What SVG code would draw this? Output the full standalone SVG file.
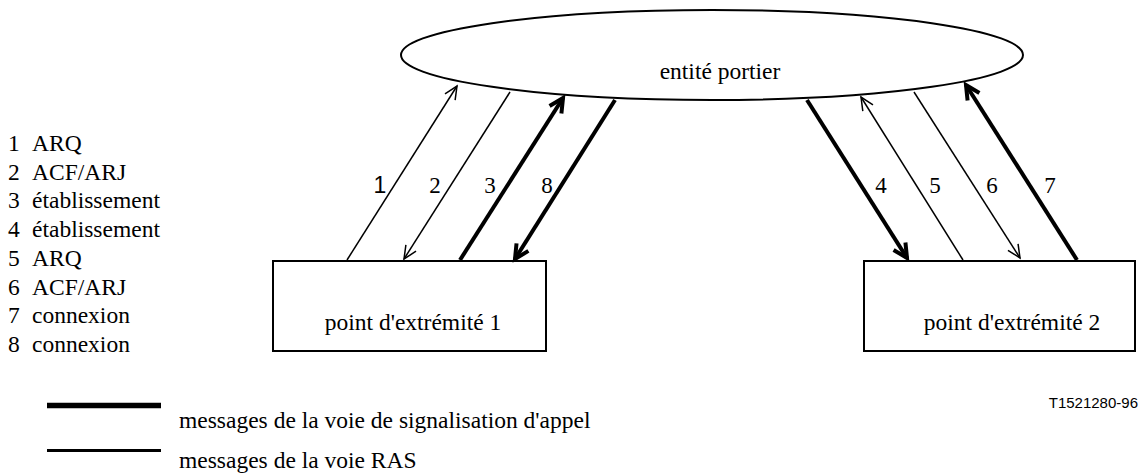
<svg xmlns="http://www.w3.org/2000/svg" width="1145" height="475" viewBox="0 0 1145 475">
<style>
text{font-family:"Liberation Serif","Times New Roman","DejaVu Serif",serif;fill:#000}
.t{font-size:23.5px}
.n{font-size:23px}
.s{font-family:"Liberation Sans",Arial,sans-serif}
.thin{stroke:#000;stroke-width:1.5;fill:none}
.thick{stroke:#000;stroke-width:4;fill:none}
.shape{fill:#fff;stroke:#000;stroke-width:2}
</style>
<defs>
<marker id="ah" markerUnits="userSpaceOnUse" markerWidth="20" markerHeight="20" refX="14" refY="7" orient="auto">
<path d="M1,1 L14,7 L1,13" fill="none" stroke="#000" stroke-width="1.5"/>
</marker>
<marker id="ahb" markerUnits="userSpaceOnUse" markerWidth="24" markerHeight="24" refX="16" refY="9" orient="auto">
<path d="M2,2 L16,9 L2,16" fill="none" stroke="#000" stroke-width="4"/>
</marker>
</defs>
<g id="legend">
<text class="t" x="8" y="151">1</text><text class="t" x="32" y="151">ARQ</text>
<text class="t" x="8" y="179.7">2</text><text class="t" x="32" y="179.7">ACF/ARJ</text>
<text class="t" x="8" y="208.4">3</text><text class="t" x="32" y="208.4">établissement</text>
<text class="t" x="8" y="237.1">4</text><text class="t" x="32" y="237.1">établissement</text>
<text class="t" x="8" y="265.8">5</text><text class="t" x="32" y="265.8">ARQ</text>
<text class="t" x="8" y="294.5">6</text><text class="t" x="32" y="294.5">ACF/ARJ</text>
<text class="t" x="8" y="323.2">7</text><text class="t" x="32" y="323.2">connexion</text>
<text class="t" x="8" y="351.9">8</text><text class="t" x="32" y="351.9">connexion</text>
</g>
<g id="gatekeeper">
<ellipse class="shape" cx="712" cy="55" rx="311" ry="45"/>
<text class="t" x="720" y="79" text-anchor="middle">entité portier</text>
</g>
<g id="endpoint1">
<rect class="shape" x="273" y="261" width="273" height="90"/>
<text class="t" x="413" y="330" text-anchor="middle">point d'extrémité 1</text>
</g>
<g id="endpoint2">
<rect class="shape" x="864" y="261" width="271" height="90"/>
<text class="t" x="1012" y="330" text-anchor="middle">point d'extrémité 2</text>
</g>
<g id="connectors">
<line class="thin" x1="347" y1="260" x2="457" y2="86" marker-end="url(#ah)"/>
<line class="thin" x1="510" y1="92" x2="404" y2="259" marker-end="url(#ah)"/>
<line class="thick" x1="460" y1="260" x2="563" y2="98" marker-end="url(#ahb)"/>
<line class="thick" x1="615" y1="100" x2="515" y2="259" marker-end="url(#ahb)"/>
<line class="thick" x1="807" y1="100" x2="907" y2="258" marker-end="url(#ahb)"/>
<line class="thin" x1="963" y1="260" x2="861" y2="97" marker-end="url(#ah)"/>
<line class="thin" x1="914" y1="92" x2="1020" y2="258" marker-end="url(#ah)"/>
<line class="thick" x1="1077" y1="260" x2="966" y2="85" marker-end="url(#ahb)"/>
</g>
<g id="labels">
<text class="n s" x="380" y="193" text-anchor="middle">1</text>
<text class="n" x="435" y="193" text-anchor="middle">2</text>
<text class="n" x="490" y="193" text-anchor="middle">3</text>
<text class="n" x="547" y="193" text-anchor="middle">8</text>
<text class="n" x="881" y="193" text-anchor="middle">4</text>
<text class="n" x="935" y="193" text-anchor="middle">5</text>
<text class="n" x="992" y="193" text-anchor="middle">6</text>
<text class="n" x="1050" y="193" text-anchor="middle">7</text>
</g>
<g id="key">
<line x1="47" y1="405.5" x2="161" y2="405.5" stroke="#000" stroke-width="5.5"/>
<text class="t" x="179" y="428">messages de la voie de signalisation d'appel</text>
<line x1="47" y1="450.5" x2="161" y2="450.5" stroke="#000" stroke-width="3"/>
<text class="t" x="179" y="468">messages de la voie RAS</text>
<text class="s" x="1138" y="408" font-size="15" text-anchor="end">T1521280-96</text>
</g>
</svg>
